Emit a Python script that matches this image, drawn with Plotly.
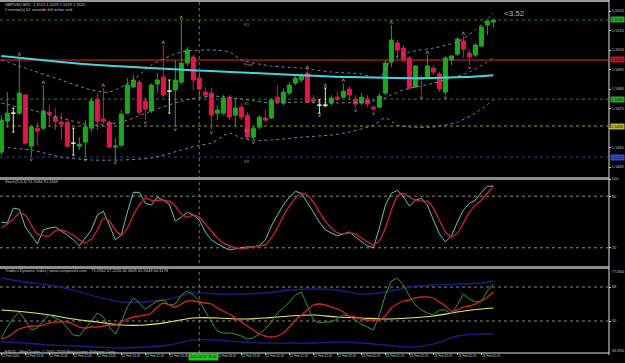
import plotly.graph_objects as go

# ---------------- data ----------------
bars = list(range(83))
open_ = [1.54526,1.54685,1.54726,1.54726,1.54819,1.54557,1.54649,1.54649,1.54731,1.54706,
         1.54680,1.54680,1.54572,1.54557,1.54578,1.54649,1.54798,1.54696,1.54680,1.54552,
         1.54562,1.54726,1.54860,1.54885,1.54788,1.54737,1.54875,1.54911,1.54839,1.54845,
         1.54885,1.54983,1.55014,1.54906,1.54834,1.54829,1.54726,1.54726,1.54808,1.54716,
         1.54757,1.54716,1.54603,1.54655,1.54701,1.54701,1.54808,1.54778,1.54829,1.54880,
         1.54896,1.54932,1.54798,1.54767,1.54767,1.54778,1.54808,1.54808,1.54850,1.54798,
         1.54778,1.54798,1.54757,1.54757,1.54829,1.54988,1.55086,1.55060,1.55009,1.54860,
         1.54906,1.54911,1.54957,1.54927,1.54834,1.54999,1.55029,1.55096,1.55034,1.55024,
         1.55070,1.55178,1.55193]
high = [1.54716,1.54834,1.54752,1.55014,1.54824,1.54665,1.54680,1.54870,1.54767,1.54752,
        1.54726,1.54690,1.54649,1.54603,1.54690,1.54804,1.54829,1.54855,1.54690,1.54598,
        1.54742,1.54906,1.54921,1.54896,1.54808,1.54880,1.54932,1.55075,1.54896,1.54999,
        1.55203,1.55065,1.55024,1.54947,1.54860,1.54855,1.54767,1.54819,1.54819,1.54794,
        1.54778,1.54731,1.54655,1.54716,1.54742,1.54803,1.54870,1.54855,1.54885,1.54921,
        1.54932,1.54947,1.54819,1.54794,1.54855,1.54819,1.54834,1.54880,1.54865,1.54819,
        1.54829,1.54819,1.54767,1.54829,1.54999,1.55178,1.55101,1.55075,1.55019,1.54973,
        1.54921,1.55024,1.54973,1.54937,1.55019,1.55024,1.55116,1.55121,1.55050,1.55086,
        1.55178,1.55203,1.55209]
low = [1.54511,1.54649,1.54629,1.54716,1.54562,1.54501,1.54562,1.54639,1.54665,1.54639,
       1.54588,1.54547,1.54511,1.54537,1.54501,1.54629,1.54639,1.54675,1.54547,1.54486,
       1.54552,1.54721,1.54855,1.54716,1.54691,1.54726,1.54829,1.54808,1.54726,1.54655,
       1.54875,1.54968,1.54845,1.54808,1.54803,1.54639,1.54691,1.54716,1.54691,1.54655,
       1.54691,1.54593,1.54588,1.54644,1.54680,1.54696,1.54778,1.54767,1.54819,1.54870,
       1.54885,1.54778,1.54773,1.54726,1.54762,1.54767,1.54788,1.54803,1.54794,1.54752,
       1.54767,1.54757,1.54737,1.54752,1.54819,1.54963,1.54999,1.54988,1.54845,1.54855,
       1.54819,1.54906,1.54922,1.54834,1.54819,1.54973,1.55019,1.55009,1.54973,1.55014,
       1.55065,1.55127,1.55163]
close = [1.54690,1.54726,1.54726,1.54829,1.54572,1.54655,1.54634,1.54737,1.54721,1.54685,
         1.54670,1.54557,1.54572,1.54567,1.54655,1.54788,1.54685,1.54685,1.54552,1.54557,
         1.54721,1.54870,1.54896,1.54731,1.54747,1.54870,1.54896,1.54819,1.54839,1.54896,
         1.54983,1.55050,1.54896,1.54850,1.54819,1.54716,1.54742,1.54803,1.54706,1.54752,
         1.54706,1.54603,1.54649,1.54706,1.54691,1.54794,1.54783,1.54834,1.54870,1.54906,
         1.54916,1.54783,1.54788,1.54767,1.54767,1.54803,1.54798,1.54839,1.54819,1.54773,
         1.54808,1.54773,1.54747,1.54814,1.54983,1.55101,1.55050,1.54999,1.54855,1.54968,
         1.54901,1.54968,1.54937,1.54850,1.55009,1.55019,1.55106,1.55055,1.55014,1.55075,
         1.55167,1.55198,1.55203]
doji_bars = [2, 12, 28, 53, 54]

frac_up = [3, 7, 17, 27, 30, 51, 54, 57, 65, 71, 77]
frac_dn = [5, 14, 19, 24, 29, 35, 42, 53, 59, 62, 70, 74, 78]

ma_bars = [0, 5, 10, 16, 22, 28, 35, 42, 50, 58, 66, 72, 77, 82]
ma_vals = [1.55019,1.55004,1.54988,1.54973,1.54963,1.54952,1.54942,1.54932,1.54921,
           1.54911,1.54906,1.54906,1.54911,1.54921]

bb_up_bars = [0,5,10,15,18,22,25,30,35,38,40,45,50,55,60,63,65,68,72,76,79,82]
bb_up_vals = [1.54999,1.54947,1.54896,1.54845,1.54834,1.54896,1.54973,1.55040,1.55050,
              1.55040,1.54999,1.54968,1.54957,1.54937,1.54927,1.54906,1.54999,1.55040,
              1.55060,1.55091,1.55153,1.55240]
bb_mid_bars = [0,5,10,15,20,25,30,35,40,45,50,55,60,63,65,67,72,78,82]
bb_mid_vals = [1.54778,1.54742,1.54701,1.54665,1.54680,1.54737,1.54788,1.54814,1.54798,
               1.54778,1.54783,1.54778,1.54783,1.54794,1.54819,1.54845,1.54880,1.54937,1.55009]
bb_lo_bars = [0,5,10,15,20,25,30,33,35,38,40,42,45,50,55,58,62,64,66,68,72,76,79,82]
bb_lo_vals = [1.54552,1.54537,1.54501,1.54486,1.54486,1.54496,1.54537,1.54562,1.54572,
              1.54624,1.54598,1.54588,1.54588,1.54603,1.54614,1.54629,1.54665,1.54701,
              1.54665,1.54655,1.54655,1.54680,1.54726,1.54794]

pivot_names = ["R1", "Pivot", "S1", "S2", "S3"]
pivot_vals = [1.55204, 1.54999, 1.54798, 1.54660, 1.54501]
pivot_colors = ["#1e8c1e", "#7a0e1c", "#1e8c1e", "#9a9a2a", "#2a3aa0"]
pivot_dash = ["dot", "solid", "dot", "dot", "dot"]
pivot_box = ["#22b022", "#c8102e", "#22b022", "#b8b830", "#3050d0"]

price_ticks = [1.5525,1.5515,1.5505,1.5495,1.5485,1.5475,1.5465,1.5455,1.5445]

stoch_main = [49.9,48.8,66.1,64.9,44.2,33.8,24.6,40.7,43.0,44.2,39.6,34.9,29.2,22.3,31.5,
              40.7,58.0,62.6,46.5,29.2,34.9,61.5,84.5,84.5,71.9,69.6,78.8,75.3,70.7,51.1,
              55.7,61.5,58.0,52.3,38.4,29.2,24.6,21.1,17.6,18.8,20.0,21.1,21.1,22.3,29.2,
              45.3,58.0,69.6,78.8,85.7,83.4,73.0,61.5,49.9,40.7,37.3,33.8,36.1,38.4,32.6,
              26.9,22.3,20.0,43.0,69.6,83.4,86.9,79.9,68.4,75.3,77.6,69.6,52.3,36.1,26.9,
              33.8,49.9,63.8,71.9,75.3,84.5,91.5,91.92]
stoch_signal = [43.0,47.6,53.4,60.3,58.0,46.5,36.1,33.8,33.8,39.6,40.7,38.4,34.9,29.2,25.7,
                30.3,40.7,54.6,51.1,40.7,34.9,43.0,58.0,69.6,77.6,75.3,75.3,75.3,74.2,68.4,
                59.2,55.7,58.0,55.7,47.6,39.6,31.5,25.7,22.3,20.0,18.8,20.0,21.1,22.3,23.4,
                31.5,43.0,56.9,68.4,77.6,83.4,81.1,73.0,61.5,51.1,43.0,37.3,36.1,37.3,36.1,
                31.5,26.9,23.4,28.0,43.0,63.8,79.9,83.4,78.8,75.3,74.2,74.2,66.1,52.3,38.4,
                32.6,37.3,48.8,61.5,69.6,75.3,83.4,91.24]
stoch_levels = [20, 80]

tdi_green = [41.00,46.82,51.59,54.76,50.53,45.24,46.29,50.53,53.18,51.59,50.00,46.29,42.59,
             42.06,45.76,50.00,54.24,52.12,46.82,43.12,49.47,57.41,62.18,59.53,56.35,58.47,
             60.59,61.12,58.47,59.00,63.76,65.88,63.76,60.59,54.76,49.47,44.71,43.65,43.65,
             43.12,42.06,40.47,41.00,43.12,45.76,49.47,54.24,56.88,60.06,63.76,65.35,57.94,
             50.53,48.94,49.47,49.47,51.06,53.18,52.65,50.53,48.41,46.82,45.24,53.18,63.76,
             71.18,72.76,69.06,63.24,58.47,55.82,54.24,53.18,55.82,55.82,53.71,58.47,64.29,
             61.65,60.06,60.59,65.88,69.59]
tdi_red = [40.47,41.53,43.65,45.76,46.82,47.35,47.35,47.88,48.94,49.47,49.47,49.47,48.41,
           46.82,46.29,46.82,46.82,47.35,47.88,47.88,49.47,51.06,52.12,52.65,53.18,54.24,
           57.41,59.53,58.47,57.41,59.00,60.59,60.59,60.06,59.53,59.00,56.88,55.29,53.71,
           51.59,49.47,47.35,45.24,43.12,42.06,41.53,42.06,43.65,46.82,50.53,53.18,55.82,
           58.47,59.00,58.47,57.41,56.35,54.76,52.65,52.12,51.06,50.53,50.53,50.53,52.65,
           56.88,59.00,60.59,61.12,62.18,62.71,62.71,62.18,60.06,57.94,55.29,55.82,57.41,
           57.94,59.00,60.59,62.71,65.35]
tdi_band_bars = [0,4,8,12,16,20,24,28,32,36,40,44,48,52,56,60,64,68,72,76,80,82]
tdi_yellow = [55.82,54.76,53.18,51.06,49.47,47.88,47.88,49.47,51.59,51.59,51.06,51.59,52.65,
              53.18,52.12,51.59,51.06,51.59,52.65,54.76,56.35,56.88]
tdi_upper = [72.76,70.65,69.06,66.41,62.71,60.06,60.06,61.65,64.82,64.29,64.29,64.82,66.41,
             66.94,66.41,64.29,65.35,68.00,69.06,69.59,70.12,71.18]
tdi_lower = [38.88,38.35,37.29,36.76,36.24,35.71,36.24,37.29,39.94,39.94,38.88,38.35,38.35,
             38.35,38.88,38.35,37.29,36.24,37.82,42.06,43.12,43.12]
tdi_levels = [32, 50, 68]
tdi_scale_max = 77.5300
tdi_scale_min = 33.5900

tick_bars = list(range(0, 81, 4))
tick_text = ["22 Feb 2010","22 Feb 10:45","22 Feb 11:45","22 Feb 12:45","22 Feb 13:45",
             "22 Feb 14:45","22 Feb 15:45","22 Feb 16:45","","22 Feb 18:45",
             "22 Feb 19:45","22 Feb 20:45","22 Feb 21:45","22 Feb 22:45","22 Feb 23:45",
             "23 Feb 00:45","23 Feb 01:45","23 Feb 02:45","23 Feb 03:45","23 Feb 04:45",
             "23 Feb 05:45"]
crosshair_bar = 33
crosshair_label = "2010.02.22 18:00"

# ---------------- styling helpers ----------------
W, H = 625, 363
def fx(px):
    return px / W
def fy(px):
    return 1 - px / H

FONT = "Liberation Sans"
C_UP = "#1fa51f"
C_DN = "#e0174a"
C_DOJI = "#efe2b4"
TXT = "#c8c8c8"

fig = go.Figure()

norm = [i for i in bars if i not in doji_bars]
fig.add_trace(go.Candlestick(
    x=norm, open=[open_[i] for i in norm], high=[high[i] for i in norm],
    low=[low[i] for i in norm], close=[close[i] for i in norm],
    increasing=dict(line=dict(color=C_UP, width=1), fillcolor=C_UP),
    decreasing=dict(line=dict(color=C_DN, width=1), fillcolor=C_DN),
    whiskerwidth=0, hoverinfo="skip", xaxis="x", yaxis="y"))
fig.add_trace(go.Candlestick(
    x=doji_bars, open=[open_[i] for i in doji_bars], high=[high[i] for i in doji_bars],
    low=[low[i] for i in doji_bars], close=[close[i] for i in doji_bars],
    increasing=dict(line=dict(color=C_DOJI, width=1), fillcolor=C_DOJI),
    decreasing=dict(line=dict(color=C_DOJI, width=1), fillcolor=C_DOJI),
    whiskerwidth=0.6, hoverinfo="skip", xaxis="x", yaxis="y"))

band_style = dict(color="#6f84a8", width=1, dash="dot", shape="spline", smoothing=0.7)
for bx, by in [(bb_up_bars, bb_up_vals), (bb_mid_bars, bb_mid_vals), (bb_lo_bars, bb_lo_vals)]:
    fig.add_trace(go.Scatter(x=bx, y=by, mode="lines", line=band_style,
                             xaxis="x", yaxis="y"))
fig.add_trace(go.Scatter(x=ma_bars, y=ma_vals, mode="lines",
                         line=dict(color="#3fd6dc", width=2, shape="spline"), xaxis="x", yaxis="y"))

fig.add_trace(go.Scatter(x=frac_up, y=[high[i] for i in frac_up], mode="text",
                         text=["ʌ"] * len(frac_up), textposition="top center",
                         textfont=dict(size=6, color="#bdbdbd", family="DejaVu Sans"),
                         xaxis="x", yaxis="y"))
fig.add_trace(go.Scatter(x=frac_dn, y=[low[i] for i in frac_dn], mode="text",
                         text=["v"] * len(frac_dn), textposition="bottom center",
                         textfont=dict(size=5, color="#bdbdbd", family="DejaVu Sans"),
                         xaxis="x", yaxis="y"))

# stochastic
fig.add_trace(go.Scatter(x=bars, y=stoch_main, mode="lines",
                         line=dict(color="#62c4b8", width=1), xaxis="x", yaxis="y2"))
fig.add_trace(go.Scatter(x=bars, y=stoch_signal, mode="lines",
                         line=dict(color="#d0202a", width=1.3, shape="spline", smoothing=0.5),
                         xaxis="x", yaxis="y2"))

# TDI
fig.add_trace(go.Scatter(x=tdi_band_bars, y=tdi_upper, mode="lines",
                         line=dict(color="#1c1c86", width=1.3, shape="spline"), xaxis="x", yaxis="y3"))
fig.add_trace(go.Scatter(x=tdi_band_bars, y=tdi_lower, mode="lines",
                         line=dict(color="#1c1c86", width=1.3, shape="spline"), xaxis="x", yaxis="y3"))
fig.add_trace(go.Scatter(x=tdi_band_bars, y=tdi_yellow, mode="lines",
                         line=dict(color="#e8e873", width=1.2, shape="spline"), xaxis="x", yaxis="y3"))
fig.add_trace(go.Scatter(x=bars, y=tdi_green, mode="lines",
                         line=dict(color="#2f9a2f", width=1),
                         xaxis="x", yaxis="y3"))
fig.add_trace(go.Scatter(x=bars, y=tdi_red, mode="lines",
                         line=dict(color="#d52626", width=1.3, shape="spline"), xaxis="x", yaxis="y3"))

shapes = []
annotations = []
for name, v, c, d, b in zip(pivot_names, pivot_vals, pivot_colors, pivot_dash, pivot_box):
    shapes.append(dict(type="line", xref="paper", yref="y", x0=0, x1=fx(608), y0=v, y1=v,
                       line=dict(color=c, width=2 if d == "solid" else 1, dash=d), layer="below"))
    annotations.append(dict(xref="paper", yref="y", x=fx(242), y=v, xanchor="left",
                            yanchor="top", text=name, showarrow=False,
                            font=dict(size=4, color="#9a9a9a", family=FONT)))
    annotations.append(dict(xref="paper", yref="y", x=fx(610), y=v, xanchor="left",
                            yanchor="middle", text=f"{v:.4f}", showarrow=False,
                            bgcolor=b, borderpad=0,
                            font=dict(size=4, color="#101010", family=FONT)))
for v in stoch_levels:
    shapes.append(dict(type="line", xref="paper", yref="y2", x0=0, x1=fx(608), y0=v, y1=v,
                       line=dict(color="#8a8a8a", width=1, dash="dot"), layer="below"))
for v in tdi_levels:
    shapes.append(dict(type="line", xref="paper", yref="y3", x0=0, x1=fx(608), y0=v, y1=v,
                       line=dict(color="#8a8a8a", width=1, dash="dot"), layer="below"))

shapes.append(dict(type="line", xref="x", yref="paper", x0=crosshair_bar, x1=crosshair_bar,
                   y0=fy(353), y1=1, line=dict(color="#3a8f3a", width=1, dash="dot")))
annotations.append(dict(xref="paper", yref="paper", x=fx(188), y=fy(357), xanchor="left",
                        yanchor="middle", text=crosshair_label, showarrow=False,
                        bgcolor="#22c022", borderpad=1,
                        font=dict(size=3.4, color="#102010", family=FONT)))

for ypx, w, col in [(1, 2, "#9a9a9a"), (178.5, 3, "#8c8c8c"), (267.5, 3, "#8c8c8c"),
                    (353, 1, "#e0e0e0")]:
    shapes.append(dict(type="line", xref="paper", yref="paper", x0=0, x1=fx(609),
                       y0=fy(ypx), y1=fy(ypx), line=dict(color=col, width=w)))
shapes.append(dict(type="line", xref="paper", yref="paper", x0=fx(609), x1=fx(609),
                   y0=fy(355), y1=1, line=dict(color="#e0e0e0", width=1)))

def label(xpx, ypx, text, size=4, color=TXT, anchor="left"):
    annotations.append(dict(xref="paper", yref="paper", x=fx(xpx), y=fy(ypx),
                            xanchor=anchor, yanchor="middle", text=text, showarrow=False,
                            font=dict(size=size, color=color, family=FONT)))

label(3, 4, "GBPUSD,M15  1.5521 1.5523 1.5519 1.5520")
label(3, 9, "1 minute(s) 52 seconds left to bar end")
label(502, 14, "&lt;3.52", size=8, color="#b8b8b8")
label(3, 182, "Stoch(5,3,3) 91.9184 91.2409")
label(3, 270.5, "Traders Dynamic Index | www.compassfx.com    71.2962 57.2256 42.6609 65.9448 64.3178")
label(3, 351, "FXDD - MetaTrader, © 2001-2009 MetaQuotes Software Corp.")
label(610, 271.5, f"{tdi_scale_max:.4f}", size=3.4)
label(610, 350.5, f"{tdi_scale_min:.4f}", size=3.4)

axis_common = dict(showgrid=False, zeroline=False, side="right", anchor="x",
                   ticks="outside", ticklen=2, tickcolor="#d0d0d0", automargin=False,
                   tickfont=dict(size=4, color=TXT, family=FONT), fixedrange=True)

fig.update_layout(
    width=W, height=H, margin=dict(l=0, r=0, t=0, b=0, autoexpand=False),
    paper_bgcolor="black", plot_bgcolor="black", showlegend=False,
    font=dict(family=FONT, color=TXT),
    boxgap=0.15, boxgroupgap=0.2,
    xaxis=dict(domain=[0, fx(608)], range=[-0.22, 101.1], anchor="y3",
               tickmode="array", tickvals=tick_bars, ticktext=tick_text, tickangle=0,
               tickfont=dict(size=3.1, color=TXT, family=FONT), ticks="outside", ticklen=2,
               tickcolor="#d0d0d0", ticklabelposition="outside right", automargin=False,
               showgrid=False, zeroline=False, showline=False,
               rangeslider=dict(visible=False), fixedrange=True),
    yaxis=dict(domain=[fy(177), fy(3)], range=[1.543987, 1.552910],
               tickmode="array", tickvals=price_ticks, tickformat=".4f", **axis_common),
    yaxis2=dict(domain=[fy(265), fy(179)], range=[0, 100],
                tickmode="array", tickvals=[20, 80, 100], **axis_common),
    yaxis3=dict(domain=[fy(352), fy(269)], range=[tdi_scale_min, tdi_scale_max],
                tickmode="array", tickvals=[50, 68], **axis_common),
    shapes=shapes, annotations=annotations,
)

fig.write_html("out.html")
